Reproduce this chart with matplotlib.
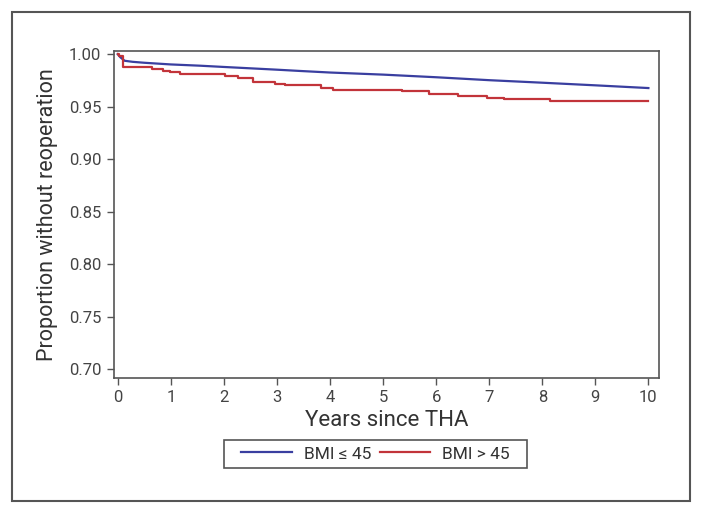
import matplotlib
matplotlib.use("Agg")
import matplotlib.pyplot as plt
from matplotlib.patches import Rectangle

plt.rcParams['font.family'] = ['Roboto', 'DejaVu Sans']

# Data
blue_t = [0.0, 0.05, 0.13, 0.28, 0.5, 1.0, 1.55, 2.0, 2.5, 3.0, 3.43, 4.0, 5.0,
          6.0, 7.0, 8.0, 9.0, 10.0]
blue_s = [1.000, 0.997, 0.9937, 0.9927, 0.9918, 0.9902, 0.989, 0.9878, 0.9865, 0.9852,
          0.984, 0.9825, 0.9805, 0.978, 0.9752, 0.9728, 0.9703, 0.9677]

red_t = [0.0, 0.02, 0.1, 0.64, 0.855, 0.98, 1.17, 2.02, 2.27, 2.55, 2.96, 3.15,
         3.84, 4.06, 5.35, 5.86, 6.42, 6.96, 7.27, 8.15, 10.0]
red_s = [1.000, 0.998, 0.9873, 0.9858, 0.984, 0.9826, 0.981, 0.9788, 0.977, 0.9737,
         0.972, 0.9706, 0.968, 0.966, 0.9646, 0.962, 0.960, 0.9586, 0.957, 0.9554, 0.9554]

x_ticks = list(range(0, 11))
y_ticks = [0.70, 0.75, 0.80, 0.85, 0.90, 0.95, 1.00]
labels = ["BMI \u2264 45", "BMI > 45"]
x_label = "Years since THA"
y_label = "Proportion without reoperation"

W, H = 703, 515
fig = plt.figure(figsize=(W / 100, H / 100), dpi=100)
fig.patch.set_facecolor('white')

# outer frame
fig.add_artist(Rectangle((12 / W, 1 - 501 / H), (690 - 12) / W, (501 - 12) / H,
                         transform=fig.transFigure, fill=False,
                         edgecolor='#555555', linewidth=1.5))

ax = fig.add_axes([114 / W, 1 - 378 / H, (659 - 114) / W, (378 - 51) / H])

blue_c = '#3a3fa0'
red_c = '#c2343a'
l1, = ax.plot(blue_t, blue_s, color=blue_c, lw=1.6)
l2, = ax.plot(red_t, red_s, drawstyle='steps-post', color=red_c, lw=1.6)

ax.set_xlim(-0.07, 10.2)
ax.set_ylim(0.6915, 1.003)
ax.set_xticks(x_ticks)
ax.set_yticks(y_ticks)
ax.set_yticklabels([f"{v:.2f}" for v in y_ticks])
for s in ax.spines.values():
    s.set_color('#555555')
    s.set_linewidth(1.2)
ax.tick_params(colors='#555555', labelcolor='#444444', labelsize=12,
               length=5, width=1.0, pad=4)
ax.set_xlabel(x_label, fontsize=16, color='#333333', labelpad=3)
ax.set_ylabel(y_label, fontsize=15.5, color='#333333', labelpad=8)

# legend box
fig.add_artist(Rectangle((224 / W, 1 - 468 / H), (527 - 224) / W, (468 - 440) / H,
                         transform=fig.transFigure, fill=False,
                         edgecolor='#555555', linewidth=1.2))
leg = fig.legend([l1, l2], labels, loc='center', ncol=2,
                 bbox_to_anchor=(375.5 / W, 1 - 454 / H), frameon=False,
                 fontsize=12.5, handlelength=2.9,
                 columnspacing=0.5, handletextpad=0.7, borderpad=0.45,
                 labelcolor='#333333')

fig.savefig('out.png', dpi=100, facecolor='white')
